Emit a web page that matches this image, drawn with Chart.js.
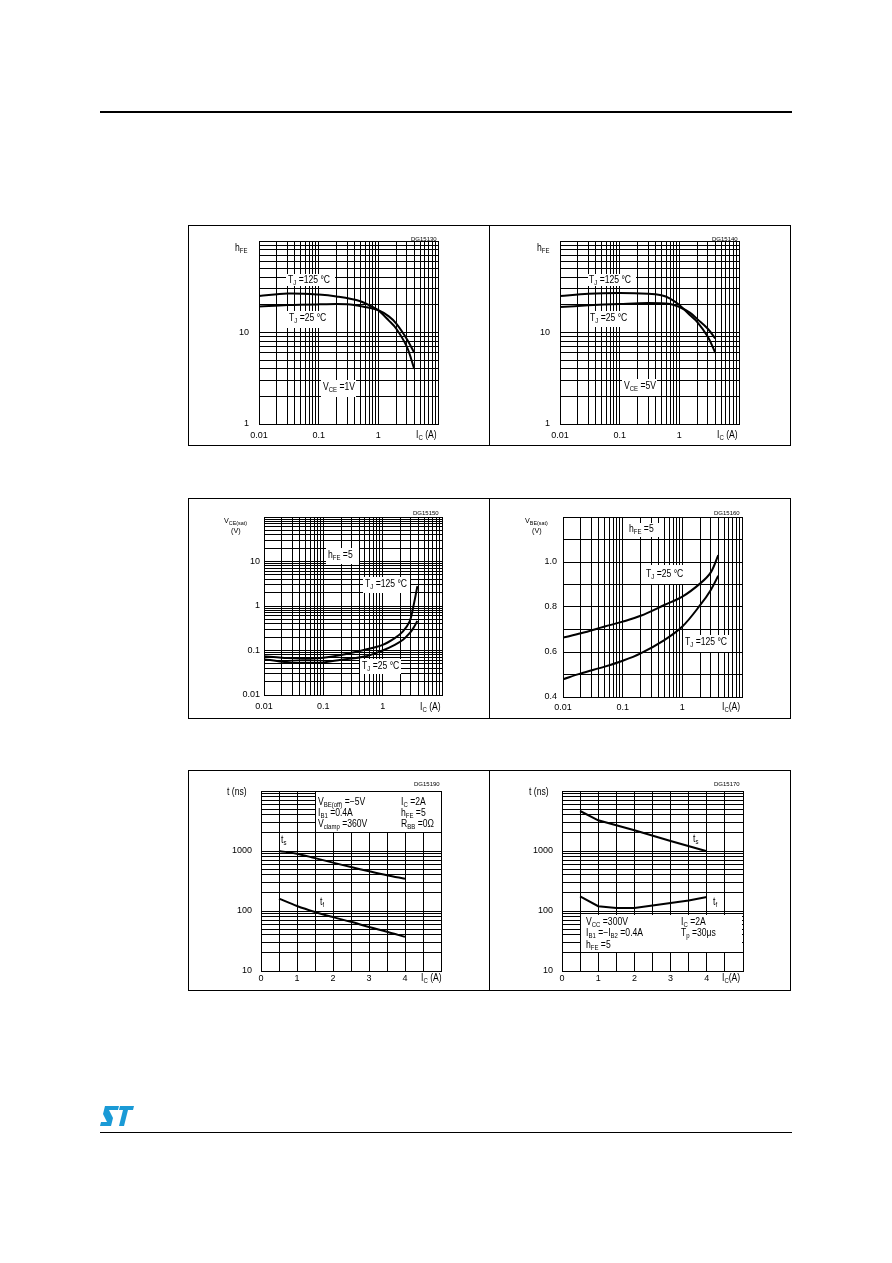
<!DOCTYPE html>
<html>
<head>
<meta charset="utf-8">
<script src="https://cdn.jsdelivr.net/npm/chart.js@4.4.1/dist/chart.umd.min.js"></script>
<style>
body{margin:0;background:#fff;width:892px;height:1263px;position:relative;overflow:hidden;
  font-family:"Liberation Sans",Arial,sans-serif;color:#000}
.panel{position:absolute;box-sizing:border-box;border:1px solid #000;width:302px;height:221px}
canvas{position:absolute}
.t{position:absolute;font-size:10px;line-height:10px;white-space:nowrap;transform:scaleX(0.86);transform-origin:0 0;filter:grayscale(1)}
.t sub{font-size:7px;line-height:0;vertical-align:-2px}
.s{position:absolute;font-size:8px;line-height:8px;white-space:nowrap;transform:scaleX(0.9);transform-origin:0 0;filter:grayscale(1)}
.s sub{font-size:6px;line-height:0;vertical-align:-2px}
.code{position:absolute;font-size:6px;line-height:6px;white-space:nowrap}
.box{position:absolute;background:#fff}
.rule{position:absolute;background:#000}
</style>
</head>
<body>

<div class="rule" style="left:100px;top:111px;width:692px;height:2px"></div>
<div class="rule" style="left:100px;top:1132px;width:692px;height:1px"></div>
<svg style="position:absolute;left:100px;top:1106px" width="34" height="20" viewBox="0 0 34 20">
  <polygon fill="#1a9ad6" points="5,0 19,0 18,4 9,4 13,12 11,20 0,20 1,16 7,16 3,8" />
  <polygon fill="#1a9ad6" points="20,0 34,0 33,4 28,4 24,20 19,20 23,4 19,4" />
</svg>

<div class="panel" style="left:188px;top:225px"></div>
<div class="panel" style="left:489px;top:225px"></div>
<div class="panel" style="left:188px;top:498px"></div>
<div class="panel" style="left:489px;top:498px"></div>
<div class="panel" style="left:188px;top:770px"></div>
<div class="panel" style="left:489px;top:770px"></div>

<canvas id="c1" width="301" height="220" style="left:188px;top:225px"></canvas>
<canvas id="c2" width="301" height="220" style="left:489px;top:225px"></canvas>
<canvas id="c3" width="301" height="220" style="left:188px;top:498px"></canvas>
<canvas id="c4" width="301" height="220" style="left:489px;top:498px"></canvas>
<canvas id="c5" width="301" height="220" style="left:188px;top:770px"></canvas>
<canvas id="c6" width="301" height="220" style="left:489px;top:770px"></canvas>

<!-- panel 1 -->
<div class="t" style="left:235px;top:243px">h<sub>FE</sub></div>
<div class="code" style="left:411px;top:236px">DG15130</div>
<div class="box" style="left:286px;top:274px;width:49px;height:12px"></div>
<div class="t" style="left:288px;top:275px">T<sub>J</sub> =125 °C</div>
<div class="box" style="left:287px;top:311px;width:48px;height:17px"></div>
<div class="t" style="left:289px;top:313px">T<sub>J</sub> =25 °C</div>
<div class="box" style="left:321px;top:380px;width:35px;height:17px"></div>
<div class="t" style="left:323px;top:382px">V<sub>CE</sub> =1V</div>
<div class="t" style="left:416px;top:430px">I<sub>C</sub> (A)</div>

<!-- panel 2 -->
<div class="t" style="left:537px;top:243px">h<sub>FE</sub></div>
<div class="code" style="left:712px;top:236px">DG15140</div>
<div class="box" style="left:588px;top:274px;width:48px;height:12px"></div>
<div class="t" style="left:589px;top:275px">T<sub>J</sub> =125 °C</div>
<div class="box" style="left:589px;top:311px;width:48px;height:16px"></div>
<div class="t" style="left:590px;top:313px">T<sub>J</sub> =25 °C</div>
<div class="box" style="left:622px;top:379px;width:35px;height:17px"></div>
<div class="t" style="left:624px;top:381px">V<sub>CE</sub> =5V</div>
<div class="t" style="left:717px;top:430px">I<sub>C</sub> (A)</div>

<!-- panel 3 -->
<div class="s" style="left:224px;top:517px">V<sub>CE(sat)</sub></div>
<div class="s" style="left:231px;top:527px">(V)</div>
<div class="code" style="left:413px;top:510px">DG15150</div>
<div class="box" style="left:326px;top:548px;width:33px;height:16px"></div>
<div class="t" style="left:328px;top:550px">h<sub>FE</sub> =5</div>
<div class="box" style="left:363px;top:577px;width:47px;height:16px"></div>
<div class="t" style="left:365px;top:579px">T<sub>J</sub> =125 °C</div>
<div class="box" style="left:360px;top:659px;width:41px;height:15px"></div>
<div class="t" style="left:362px;top:661px">T<sub>J</sub> =25 °C</div>
<div class="t" style="left:420px;top:702px">I<sub>C</sub> (A)</div>

<!-- panel 4 -->
<div class="s" style="left:525px;top:517px">V<sub>BE(sat)</sub></div>
<div class="s" style="left:532px;top:527px">(V)</div>
<div class="code" style="left:714px;top:510px">DG15160</div>
<div class="box" style="left:626px;top:523px;width:34px;height:14px"></div>
<div class="t" style="left:629px;top:524px">h<sub>FE</sub> =5</div>
<div class="box" style="left:643px;top:565px;width:55px;height:19px"></div>
<div class="t" style="left:646px;top:569px">T<sub>J</sub> =25 °C</div>
<div class="box" style="left:683px;top:635px;width:49px;height:17px"></div>
<div class="t" style="left:685px;top:637px">T<sub>J</sub> =125 °C</div>
<div class="t" style="left:722px;top:702px">I<sub>C</sub>(A)</div>

<!-- panel 5 -->
<div class="t" style="left:227px;top:787px">t (ns)</div>
<div class="code" style="left:414px;top:781px">DG15190</div>
<div class="box" style="left:316px;top:792px;width:125px;height:40px"></div>
<div class="t" style="left:318px;top:797px">V<sub>BE(off)</sub> =−5V</div>
<div class="t" style="left:318px;top:808px">I<sub>B1</sub> =0.4A</div>
<div class="t" style="left:318px;top:819px">V<sub>clamp</sub> =360V</div>
<div class="t" style="left:401px;top:797px">I<sub>C</sub> =2A</div>
<div class="t" style="left:401px;top:808px">h<sub>FE</sub> =5</div>
<div class="t" style="left:401px;top:819px">R<sub>BB</sub> =0Ω</div>
<div class="t" style="left:281px;top:835px">t<sub>s</sub></div>
<div class="t" style="left:320px;top:897px">t<sub>f</sub></div>
<div class="t" style="left:421px;top:973px">I<sub>C</sub> (A)</div>

<!-- panel 6 -->
<div class="t" style="left:529px;top:787px">t (ns)</div>
<div class="code" style="left:714px;top:781px">DG15170</div>
<div class="box" style="left:581px;top:915px;width:161px;height:37px"></div>
<div class="t" style="left:586px;top:917px">V<sub>CC</sub> =300V</div>
<div class="t" style="left:586px;top:928px">I<sub>B1</sub> =−I<sub>B2</sub> =0.4A</div>
<div class="t" style="left:586px;top:940px">h<sub>FE</sub> =5</div>
<div class="t" style="left:681px;top:917px">I<sub>C</sub> =2A</div>
<div class="t" style="left:681px;top:928px">T<sub>p</sub> =30μs</div>
<div class="t" style="left:693px;top:834px">t<sub>s</sub></div>
<div class="t" style="left:713px;top:897px">t<sub>f</sub></div>
<div class="t" style="left:722px;top:973px">I<sub>C</sub>(A)</div>

<script>
// DC current gain, VCE = 1 V
const hfeIc125V1 = [0.01, 0.03, 0.1, 0.2, 0.5, 0.8, 1, 1.5, 2, 3, 4];
const hfe125V1   = [25, 26.6, 26, 24.8, 22, 19, 17.5, 13.5, 11, 7, 4.0];
const hfeIc25V1  = [0.01, 0.03, 0.1, 0.3, 0.6, 1, 1.5, 2, 3, 4];
const hfe25V1    = [19.2, 20, 20.3, 20.3, 19, 17.5, 15, 12.5, 8.5, 6.0];

// DC current gain, VCE = 5 V
const hfeIc125V5 = [0.01, 0.03, 0.1, 0.3, 0.5, 0.7, 1, 1.5, 2, 3, 4];
const hfe125V5   = [25, 26.5, 27, 26.5, 25.5, 23.5, 20, 15.5, 13, 9, 6.0];
const hfeIc25V5  = [0.01, 0.03, 0.1, 0.3, 0.7, 1, 1.5, 2, 3, 4];
const hfe25V5    = [19, 19.8, 20.5, 21, 20.5, 19, 16.5, 14, 11, 8.6];

// collector-emitter saturation voltage
const vceIc125 = [0.01, 0.02, 0.05, 0.1, 0.2, 0.5, 1, 1.6, 2.2, 2.85, 3.25, 3.85];
const vce125   = [0.074, 0.069, 0.065, 0.069, 0.079, 0.104, 0.134, 0.19, 0.27, 0.45, 0.9, 2.8];
const vceIc25  = [0.01, 0.02, 0.05, 0.1, 0.2, 0.5, 1, 1.6, 2.2, 2.85, 3.25, 3.85];
const vce25    = [0.064, 0.056, 0.053, 0.054, 0.062, 0.073, 0.1, 0.134, 0.174, 0.246, 0.31, 0.46];

// base-emitter saturation voltage
const vbeIc  = [0.01, 0.02, 0.05, 0.1, 0.2, 0.5, 1, 2, 3, 4];
const vbe25  = [0.664, 0.683, 0.713, 0.735, 0.761, 0.809, 0.846, 0.905, 0.954, 1.031];
const vbe125 = [0.479, 0.505, 0.535, 0.561, 0.594, 0.653, 0.713, 0.809, 0.876, 0.939];

// inductive load switching times
const indIc = [0.5, 1, 1.5, 2, 2.5, 3, 3.5, 4];
const indTs = [1000, 900, 760, 640, 540, 460, 395, 345];
const indTf = [161, 121, 96, 79, 66, 54, 45, 37];

// resistive load switching times
const resIcTs = [0.5, 1, 2, 3, 4];
const resTs   = [4640, 3250, 2210, 1470, 990];
const resIcTf = [0.5, 1, 1.5, 2, 2.5, 3, 3.5, 4];
const resTf   = [175, 120, 112, 112, 124, 136, 150, 171];

// tick labels
const logIcTicks  = [0.01, 0.1, 1];
const hfeTicks    = [1, 10];
const vceTicks    = [0.01, 0.1, 1, 10];
const vbeTicks    = [0.4, 0.6, 0.8, 1.0];
const swIcTicks   = [0, 1, 2, 3, 4];
const swTimeTicks = [10, 100, 1000];

const FONT = '"Liberation Sans",Arial,sans-serif';

function near(v, list){
  return list.some(t => Math.abs(v - t) <= Math.abs(t) * 1e-6 + 1e-9);
}

// keep only 1..9 x 10^n on log axes
function cleanLogTicks(scale){
  scale.ticks = scale.ticks.filter(t => {
    const m = t.value / Math.pow(10, Math.floor(Math.log10(t.value) + 1e-9));
    return Math.abs(m - Math.round(m)) < 1e-6;
  });
}

function axis(a, labels, fmt, pad, size, isX){
  const o = {
    type: a.type, min: a.min, max: a.max,
    ticks: {
      autoSkip: false, maxRotation: 0, padding: pad, color: '#000',
      font: {family: FONT, size: 9},
      callback: v => near(v, labels) ? fmt(v) : ''
    },
    grid: {color: '#000', lineWidth: 1, drawTicks: false},
    border: {color: '#000', width: 1}
  };
  if (a.step) o.ticks.stepSize = a.step;
  if (a.type === 'logarithmic') o.afterBuildTicks = cleanLogTicks;
  o.afterFit = isX ? (s => { s.height = size; }) : (s => { s.width = size; });
  return o;
}

const plain = v => String(Number(v.toPrecision(6)));
const oneDec = v => v.toFixed(1);

function makeChart(id, series, c){
  new Chart(document.getElementById(id), {
    type: 'line',
    data: {
      datasets: series.map(s => ({
        data: s[0].map((x, i) => ({x: x, y: s[1][i]})),
        borderColor: '#000', borderWidth: 2, pointRadius: 0, fill: false,
        tension: c.smooth ? 0.35 : 0
      }))
    },
    options: {
      responsive: false, animation: false, devicePixelRatio: 1,
      layout: {autoPadding: false, padding: {left: 0, top: c.top, right: c.right, bottom: 0}},
      plugins: {legend: {display: false}, tooltip: {enabled: false}},
      scales: {
        x: axis(c.x, c.xLabels, c.xFmt || plain, c.xPad, c.bottom, true),
        y: axis(c.y, c.yLabels, c.yFmt || plain, c.yPad, c.left, false)
      }
    }
  });
}

const logIc = {type: 'logarithmic', min: 0.01, max: 10};
const linIc = {type: 'linear', min: 0, max: 5, step: 0.5};

makeChart('c1', [[hfeIc125V1, hfe125V1], [hfeIc25V1, hfe25V1]], {
  x: logIc, y: {type: 'logarithmic', min: 1, max: 100},
  xLabels: logIcTicks, yLabels: hfeTicks, xPad: 6, yPad: 10,
  left: 71, top: 16, right: 51, bottom: 21, smooth: true
});
makeChart('c2', [[hfeIc125V5, hfe125V5], [hfeIc25V5, hfe25V5]], {
  x: logIc, y: {type: 'logarithmic', min: 1, max: 100},
  xLabels: logIcTicks, yLabels: hfeTicks, xPad: 6, yPad: 10,
  left: 71, top: 16, right: 51, bottom: 21, smooth: true
});
makeChart('c3', [[vceIc125, vce125], [vceIc25, vce25]], {
  x: logIc, y: {type: 'logarithmic', min: 0.01, max: 100},
  xLabels: logIcTicks, yLabels: vceTicks, xPad: 6, yPad: 4,
  left: 76, top: 19, right: 47, bottom: 23, smooth: true
});
makeChart('c4', [[vbeIc, vbe25], [vbeIc, vbe125]], {
  x: logIc, y: {type: 'linear', min: 0.4, max: 1.2, step: 0.1},
  xLabels: logIcTicks, yLabels: vbeTicks, yFmt: oneDec, xPad: 5, yPad: 6,
  left: 74, top: 19, right: 48, bottom: 21, smooth: true
});
makeChart('c5', [[indIc, indTs], [indIc, indTf]], {
  x: linIc, y: {type: 'logarithmic', min: 10, max: 10000},
  xLabels: swIcTicks, yLabels: swTimeTicks, xPad: 2, yPad: 9,
  left: 73, top: 21, right: 48, bottom: 19, smooth: true
});
makeChart('c6', [[resIcTs, resTs], [resIcTf, resTf]], {
  x: linIc, y: {type: 'logarithmic', min: 10, max: 10000},
  xLabels: swIcTicks, yLabels: swTimeTicks, xPad: 2, yPad: 9,
  left: 73, top: 21, right: 47, bottom: 19, smooth: false
});
</script>
</body>
</html>
